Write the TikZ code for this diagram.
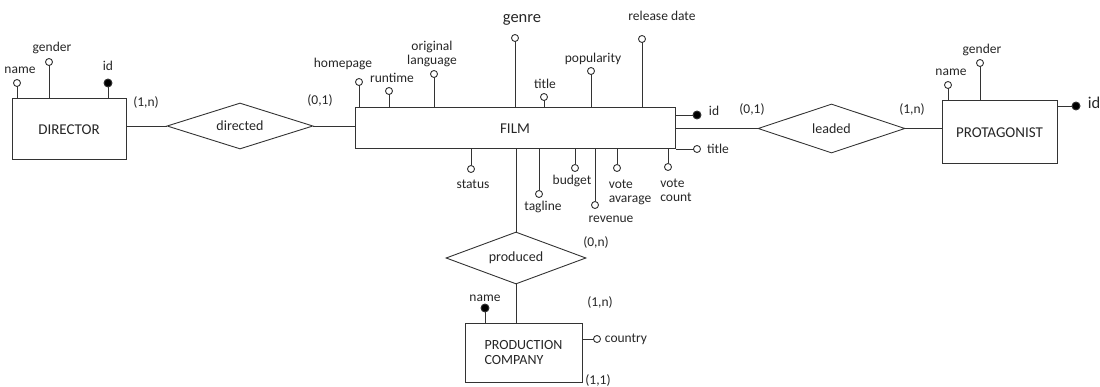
\documentclass[tikz,border=0pt]{standalone}
\usepackage{fontspec}
\setmainfont{Carlito}
\usetikzlibrary{shapes.geometric}

\begin{document}
\begin{tikzpicture}[
    x=1pt, y=-1pt,
    line width=0.9pt, draw=black!80, text=black!85,
    entity/.style={rectangle, draw, line width=1pt, inner sep=0pt,
      font=\fontsize{15}{16}\selectfont},
    rel/.style={diamond, draw, inner sep=0pt, aspect=3,
      font=\fontsize{14}{15}\selectfont},
    attr/.style={circle, draw, fill=white, inner sep=0pt, outer sep=0pt,
      minimum size=7pt, line width=0.9pt},
    key/.style={circle, draw, fill=black, inner sep=0pt, outer sep=0pt,
      minimum size=8pt},
    lbl/.style={inner sep=0pt, font=\fontsize{13.5}{14}\selectfont},
    big/.style={inner sep=0pt, font=\fontsize{16.5}{17}\selectfont},
  ]
    \useasboundingbox (0,0) rectangle (1100,387);
    % entities
    \node[entity, minimum width=114pt, minimum height=61pt] (dir) at (69,129.5) {DIRECTOR};
    \node[entity, minimum width=320pt, minimum height=41pt] (film) at (515,128.5) {FILM};
    \node[entity, minimum width=115pt, minimum height=63pt] (prot) at (999.5,132.5) {PROTAGONIST};
    \node[entity, minimum width=117pt, minimum height=59pt, align=left,
          font=\fontsize{14}{14.5}\selectfont] (comp) at (523.5,352.5) {PRODUCTION\\COMPANY};
    % relationships
    \node[rel, minimum width=146pt, minimum height=46pt] (directed) at (240,126) {directed};
    \node[rel, minimum width=147pt, minimum height=49pt] (leaded) at (831.5,128.5) {leaded};
    \node[rel, minimum width=140pt, minimum height=52pt] (produced) at (516,258) {produced};
    % connections
    \draw (directed.west -| dir.east) -- (directed.west);
    \draw (directed.east) -- (directed.east -| film.west);
    \draw (film.east) -- (leaded.west);
    \draw (leaded.east) -- (leaded.east -| prot.west);
    \draw (produced.north |- film.south) -- (produced.north);
    \draw (produced.south) -- (produced.south |- comp.north);
    % cardinalities
    \node[lbl] (c1) at (146,103) {(1,n)};
    \node[lbl] (c2) at (320,101) {(0,1)};
    \node[lbl] (c3) at (752,110) {(0,1)};
    \node[lbl] (c4) at (912,110) {(1,n)};
    \node[lbl] (c5) at (596,242) {(0,n)};
    \node[lbl] (c6) at (600,302) {(1,n)};
    \node[lbl] (c7) at (598,380) {(1,1)};
    % director attributes
    \node[attr] (dname) at (17,83) {};
    \node[attr] (dgender) at (49,62) {};
    \node[key] (did) at (108,83) {};
    \draw (dname.south) -- (dname |- dir.north);
    \draw (dgender.south) -- (dgender |- dir.north);
    \draw (did.south) -- (did |- dir.north);
    \node[lbl] (dnameL) at (20,70) {name};
    \node[lbl] (dgenderL) at (52,48) {gender};
    \node[lbl] (didL) at (108,66) {id};
    % film attributes, top
    \node[attr] (hp) at (359,82) {};
    \node[attr] (rt) at (389,91) {};
    \node[attr] (ol) at (434,74) {};
    \node[attr] (gn) at (515,38) {};
    \node[attr] (ft) at (544,97) {};
    \node[attr] (pop) at (591,71) {};
    \node[attr] (rd) at (642,39) {};
    \foreach \a in {hp,rt,ol,gn,ft,pop,rd}
      \draw (\a.south) -- (\a |- film.north);
    \node[lbl] (hpL) at (343,64) {homepage};
    \node[lbl] (rtL) at (392,78) {runtime};
    \node[lbl, align=center] (olL) at (432,54) {original\\language};
    \node[big] (gnL) at (522,20) {genre};
    \node[lbl] (ftL) at (545,84) {title};
    \node[lbl] (popL) at (593,59) {popularity};
    \node[lbl] (rdL) at (662,16) {release date};
    % film attributes, right
    \node[key] (fid) at (697,115) {};
    \node[attr] (ftitle) at (697,149) {};
    \draw (fid.west) -- (fid -| film.east);
    \draw (ftitle.west) -- (ftitle -| film.east);
    \node[lbl] (fidL) at (714,111) {id};
    \node[lbl] (ftitleL) at (718,149) {title};
    % film attributes, bottom
    \node[attr] (st) at (471,169) {};
    \node[attr] (tg) at (539,194) {};
    \node[attr] (bd) at (575,168) {};
    \node[attr] (rv) at (595,205) {};
    \node[attr] (va) at (617,168) {};
    \node[attr] (vc) at (668,167) {};
    \foreach \a in {st,tg,bd,rv,va,vc}
      \draw (\a.north) -- (\a |- film.south);
    \node[lbl] (stL) at (473,184) {status};
    \node[lbl] (tgL) at (543,207) {tagline};
    \node[lbl] (bdL) at (572,181) {budget};
    \node[lbl] (rvL) at (611,219) {revenue};
    \node[lbl, align=left] (vaL) at (630,192) {vote\\avarage};
    \node[lbl, align=left] (vcL) at (676,190) {vote\\count};
    % protagonist attributes
    \node[attr] (pname) at (948,85) {};
    \node[attr] (pgender) at (980,63) {};
    \node[key] (pid) at (1076,106) {};
    \draw (pname.south) -- (pname |- prot.north);
    \draw (pgender.south) -- (pgender |- prot.north);
    \draw (pid.west) -- (pid -| prot.east);
    \node[lbl] (pnameL) at (951,72) {name};
    \node[lbl] (pgenderL) at (982,50) {gender};
    \node[big] (pidL) at (1094,103) {id};
    % company attributes
    \node[key] (cname) at (485,308) {};
    \node[attr] (ccountry) at (597,339) {};
    \draw (cname.south) -- (cname |- comp.north);
    \draw (ccountry.west) -- (ccountry -| comp.east);
    \node[lbl] (cnameL) at (485,298) {name};
    \node[lbl] (ccountryL) at (626,339) {country};
  \end{tikzpicture}
\end{document}
